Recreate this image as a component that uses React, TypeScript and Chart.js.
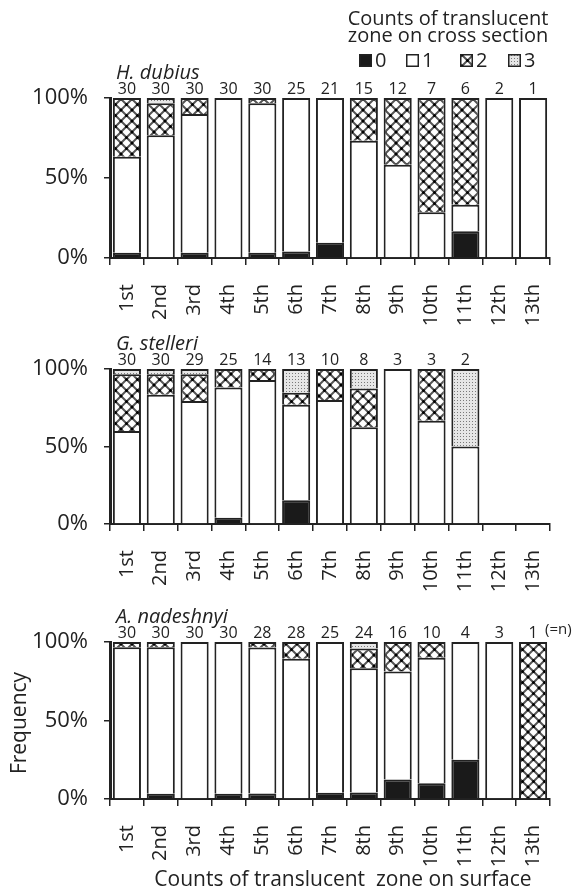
import React, { useEffect, useRef } from 'react';
import { Chart, registerables } from 'chart.js';
Chart.register(...registerables);

const categories = ['1st', '2nd', '3rd', '4th', '5th', '6th', '7th', '8th', '9th', '10th', '11th', '12th', '13th'];
const classLabels = ['0', '1', '2', '3'];
const yTickValues = [0, 50, 100];

// H. dubius
const hdTitle = 'H. dubius';
const hdN = [30, 30, 30, 30, 30, 25, 21, 15, 12, 7, 6, 2, 1];
const hdC0 = [1, 0, 1, 0, 1, 1, 2, 0, 0, 0, 1, 0, 0];
const hdC1 = [18, 23, 26, 30, 28, 24, 19, 11, 7, 2, 1, 2, 1];
const hdC2 = [11, 6, 3, 0, 1, 0, 0, 4, 5, 5, 4, 0, 0];
const hdC3 = [0, 1, 0, 0, 0, 0, 0, 0, 0, 0, 0, 0, 0];

// G. stelleri
const gsTitle = 'G. stelleri';
const gsN = [30, 30, 29, 25, 14, 13, 10, 8, 3, 3, 2, 0, 0];
const gsC0 = [0, 0, 0, 1, 0, 2, 0, 0, 0, 0, 0, 0, 0];
const gsC1 = [18, 25, 23, 21, 13, 8, 8, 5, 3, 2, 1, 0, 0];
const gsC2 = [11, 4, 5, 3, 1, 1, 2, 2, 0, 1, 0, 0, 0];
const gsC3 = [1, 1, 1, 0, 0, 2, 0, 1, 0, 0, 1, 0, 0];

// A. nadeshnyi
const anTitle = 'A. nadeshnyi';
const anN = [30, 30, 30, 30, 28, 28, 25, 24, 16, 10, 4, 3, 1];
const anC0 = [0, 1, 0, 1, 1, 0, 1, 1, 2, 1, 1, 0, 0];
const anC1 = [29, 28, 30, 29, 26, 25, 24, 19, 11, 8, 3, 3, 0];
const anC2 = [1, 1, 0, 0, 1, 3, 0, 3, 3, 1, 0, 0, 1];
const anC3 = [0, 0, 0, 0, 0, 0, 0, 1, 0, 0, 0, 0, 0];

const legendTitle = ['Counts of translucent', 'zone on cross section'];
const yAxisTitle = 'Frequency';
const xAxisTitle = 'Counts of translucent  zone on surface';
const nNote = '(=n)';

const FONT = '"Open Sans", sans-serif';
const INK = '#222';

function makeCross(): CanvasPattern | string {
  const s = 11;
  const c = document.createElement('canvas');
  c.width = s; c.height = s;
  const g = c.getContext('2d');
  if (!g) return '#888';
  g.fillStyle = '#fff';
  g.fillRect(0, 0, s, s);
  g.strokeStyle = '#555';
  g.lineWidth = 2;
  g.beginPath();
  g.moveTo(0, 0); g.lineTo(s, s);
  g.moveTo(s, 0); g.lineTo(0, s);
  g.stroke();
  g.fillStyle = '#000';
  const dot = (x: number, y: number) => { g.beginPath(); g.arc(x, y, 1.5, 0, Math.PI * 2); g.fill(); };
  dot(s / 2, s / 2); dot(0, 0); dot(s, 0); dot(0, s); dot(s, s);
  return g.createPattern(c, 'repeat') || '#888';
}

function makeDots(): CanvasPattern | string {
  const s = 3;
  const c = document.createElement('canvas');
  c.width = s; c.height = s;
  const g = c.getContext('2d');
  if (!g) return '#ccc';
  g.fillStyle = '#e6e6e6';
  g.fillRect(0, 0, s, s);
  g.fillStyle = '#7a7a7a';
  g.fillRect(1, 1, 1, 1);
  return g.createPattern(c, 'repeat') || '#ccc';
}

type Panel = {
  title: string;
  n: number[];
  counts: number[][];
  top: number;
  height: number;
  areaTop: number;
  areaBottom: number;
  legend?: boolean;
  note?: boolean;
  axisTitles?: boolean;
};

const panels: Panel[] = [
  { title: hdTitle, n: hdN, counts: [hdC0, hdC1, hdC2, hdC3], top: 0, height: 330, areaTop: 98, areaBottom: 258, legend: true },
  { title: gsTitle, n: gsN, counts: [gsC0, gsC1, gsC2, gsC3], top: 330, height: 270, areaTop: 39, areaBottom: 194 },
  { title: anTitle, n: anN, counts: [anC0, anC1, anC2, anC3], top: 600, height: 295, areaTop: 42, areaBottom: 199, note: true, axisTitles: true },
];

function PanelChart({ p }: { p: Panel }) {
  const ref = useRef<HTMLCanvasElement | null>(null);
  useEffect(() => {
    if (!ref.current) return;
    const cross = makeCross();
    const dots = makeDots();
    const fills: any[] = ['#1a1a1a', '#ffffff', cross, dots];
    const datasets = p.counts.map((arr, k) => ({
      label: classLabels[k],
      data: arr.map((v, i) => (v > 0 && p.n[i] > 0 ? (v / p.n[i]) * 100 : null)),
      backgroundColor: fills[k],
      borderColor: INK,
      borderWidth: 2,
      borderSkipped: 'start' as const,
      barPercentage: 0.83,
      categoryPercentage: 1,
    }));
    const overlay = {
      id: 'overlay',
      afterDraw(chart: any) {
        const ctx = chart.ctx as CanvasRenderingContext2D;
        const a = chart.chartArea;
        const xs = chart.scales.x;
        ctx.save();
        ctx.fillStyle = INK;
        ctx.font = `italic 20px ${FONT}`;
        ctx.textAlign = 'left';
        ctx.textBaseline = 'middle';
        ctx.fillText(p.title, 116, a.top - 25);
        ctx.font = `16px ${FONT}`;
        ctx.textAlign = 'center';
        p.n.forEach((v, i) => {
          if (v > 0) ctx.fillText(String(v), xs.getPixelForValue(i), a.top - 9);
        });
        if (p.note) {
          ctx.font = `15px ${FONT}`;
          ctx.textAlign = 'left';
          ctx.fillText(nNote, 545, a.top - 12);
        }
        if (p.legend) {
          ctx.font = `20px ${FONT}`;
          ctx.textAlign = 'center';
          ctx.fillText(legendTitle[0], 448, 19);
          ctx.fillText(legendTitle[1], 448, 36);
          const xsL = [359, 406, 460, 508];
          ctx.font = `20px ${FONT}`;
          ctx.textAlign = 'left';
          xsL.forEach((x, k) => {
            ctx.fillStyle = fills[k];
            ctx.fillRect(x, 54, 13, 13);
            ctx.strokeStyle = INK;
            ctx.lineWidth = 1.5;
            ctx.strokeRect(x + 0.75, 54.75, 11.5, 11.5);
            ctx.fillStyle = INK;
            ctx.fillText(classLabels[k], x + 16, 61);
          });
        }
        if (p.axisTitles) {
          ctx.font = `21px ${FONT}`;
          ctx.textAlign = 'center';
          ctx.fillText(xAxisTitle, 343, 280);
          ctx.save();
          ctx.translate(20, 123);
          ctx.rotate(-Math.PI / 2);
          ctx.fillText(yAxisTitle, 0, 0);
          ctx.restore();
        }
        ctx.restore();
      },
    };
    const chart = new Chart(ref.current, {
      type: 'bar',
      data: { labels: categories, datasets },
      options: {
        animation: false,
        responsive: false,
        maintainAspectRatio: false,
        devicePixelRatio: 1,
        layout: { padding: { left: 0, right: 24, top: p.areaTop, bottom: p.height - p.areaBottom - 72 } },
        plugins: { legend: { display: false }, tooltip: { enabled: false }, title: { display: false } },
        scales: {
          x: {
            stacked: true,
            offset: true,
            afterFit: (s: any) => { s.height = 72; },
            grid: { offset: true, drawOnChartArea: false, drawTicks: true, tickLength: 7, color: INK, lineWidth: 1.5 },
            border: { display: true, color: INK, width: 2 },
            ticks: { autoSkip: false, minRotation: 90, maxRotation: 90, padding: 19, color: INK, font: { family: FONT, size: 20 } },
          },
          y: {
            stacked: true,
            min: 0,
            max: 100,
            afterFit: (s: any) => { s.width = 110; },
            afterBuildTicks: (s: any) => { s.ticks = yTickValues.map((v) => ({ value: v })); },
            grid: { drawOnChartArea: false, drawTicks: true, tickLength: 6, color: INK, lineWidth: 1.5 },
            border: { display: true, color: INK, width: 3 },
            ticks: { padding: 16, color: INK, font: { family: FONT, size: 22 }, callback: (v: any) => `${v}%` },
          },
        },
      },
      plugins: [overlay],
    });
    return () => chart.destroy();
  }, [p]);
  return (
    <canvas
      ref={ref}
      width={577}
      height={p.height}
      style={{ position: 'absolute', left: 0, top: p.top, width: 577, height: p.height }}
    />
  );
}

export default function App() {
  return (
    <div style={{ position: 'absolute', left: 0, top: 0, width: 577, height: 895, background: '#fff' }}>
      {panels.map((p) => (
        <PanelChart key={p.title} p={p} />
      ))}
    </div>
  );
}
